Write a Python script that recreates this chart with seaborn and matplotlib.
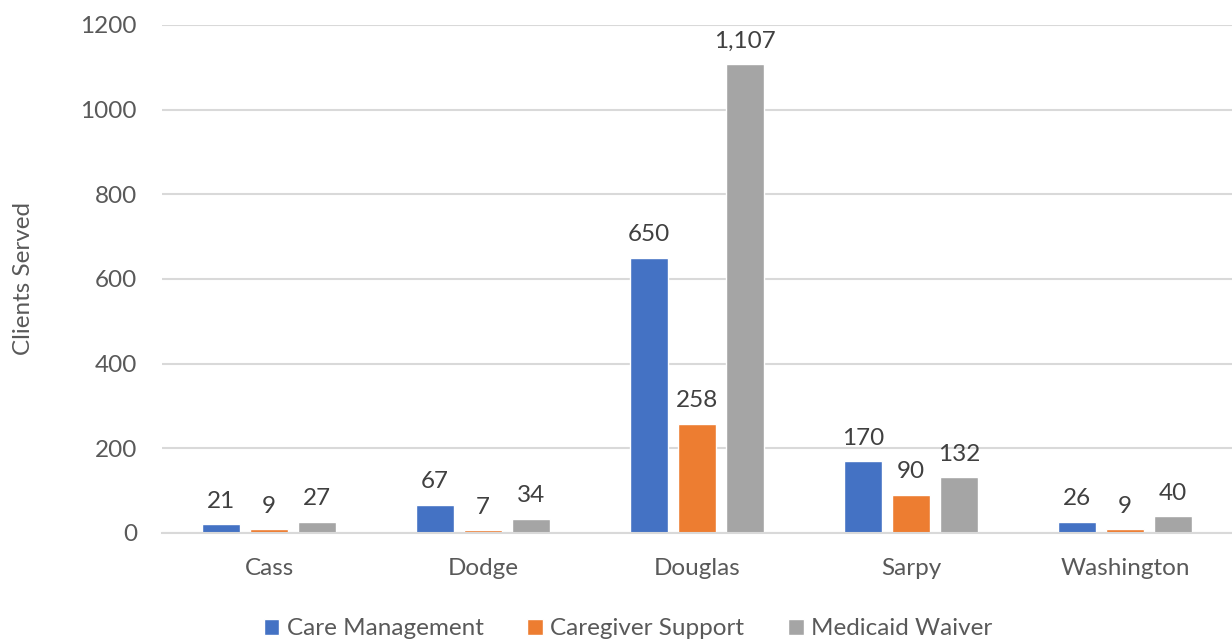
import pandas as pd
import matplotlib.pyplot as plt
import seaborn as sns

# Data
counties = ['Cass', 'Dodge', 'Douglas', 'Sarpy', 'Washington']
care_management = [21, 67, 650, 170, 26]
caregiver_support = [9, 7, 258, 90, 9]
medicaid_waiver = [27, 34, 1107, 132, 40]
programs = ['Care Management', 'Caregiver Support', 'Medicaid Waiver']
colors = ['#4472C4', '#ED7D31', '#A5A5A5']

df = pd.DataFrame({'County': counties,
                   'Care Management': care_management,
                   'Caregiver Support': caregiver_support,
                   'Medicaid Waiver': medicaid_waiver})
long_df = df.melt(id_vars='County', var_name='Program', value_name='Clients')

sns.set_style('white')
plt.rcParams['font.family'] = ['Lato', 'DejaVu Sans']
text_color = '#595959'
fs = 17.5

fig = plt.figure(figsize=(12.32, 6.41), dpi=100)
ax = fig.add_axes([0.1315, 0.1685, 0.8685, 0.7925])

sns.barplot(data=long_df, x='County', y='Clients', hue='Program',
            hue_order=programs, palette=colors, width=0.67, gap=0.2,
            saturation=1, ax=ax, legend=True)

for container in ax.containers:
    ax.bar_label(container, labels=[f'{v:,.0f}' for v in container.datavalues],
                 padding=9, fontsize=fs, color='#404040')

ax.set_ylim(0, 1200)
ax.set_xlim(-0.5, 4.5)
ax.set_yticks(range(0, 1201, 200))
ax.yaxis.grid(True, color='#d9d9d9', linewidth=1.5)
ax.set_axisbelow(True)
for side in ['top', 'right', 'left']:
    ax.spines[side].set_visible(False)
ax.spines['bottom'].set_color('#d9d9d9')
ax.spines['bottom'].set_linewidth(1.5)
ax.tick_params(axis='both', length=0, labelsize=fs, labelcolor=text_color)
ax.tick_params(axis='y', pad=18)
ax.tick_params(axis='x', pad=18)
ax.set_xlabel('')
ax.set_ylabel('Clients Served', fontsize=fs, color=text_color)
ax.yaxis.set_label_coords(-0.12, 0.5)

ax.legend(loc='upper center', bbox_to_anchor=(0.4355, -0.125),
          ncol=3, frameon=False, fontsize=fs, handlelength=0.65, handleheight=0.65,
          handletextpad=0.3, columnspacing=1.8, labelcolor=text_color)

plt.savefig('out.png', dpi=100)
